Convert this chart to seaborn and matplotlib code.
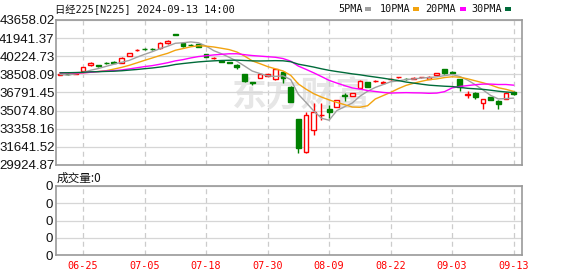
import numpy as np
import pandas as pd
import matplotlib
matplotlib.use("Agg")
import matplotlib.pyplot as plt
from matplotlib.patches import Rectangle
import seaborn as sns

# ---------------- data ----------------
dates = ["06-20", "06-21", "06-24", "06-25", "06-26", "06-27", "06-28", "07-01", "07-02", "07-03",
         "07-04", "07-05", "07-08", "07-09", "07-10", "07-11", "07-12", "07-16", "07-17", "07-18",
         "07-19", "07-22", "07-23", "07-24", "07-25", "07-26", "07-29", "07-30", "07-31", "08-01",
         "08-02", "08-05", "08-06", "08-07", "08-08", "08-09", "08-13", "08-14", "08-15", "08-16",
         "08-19", "08-20", "08-21", "08-22", "08-23", "08-26", "08-27", "08-28", "08-29", "08-30",
         "09-02", "09-03", "09-04", "09-05", "09-06", "09-09", "09-10", "09-11", "09-12", "09-13"]

opens = [38480, 38560, 38560, 38830, 39370, 39370, 39580, 39720, 39580, 40250,
         40800, 40940, 40930, 40980, 41450, 42300, 41510, 41330, 41360, 40400,
         40020, 39780, 39680, 39420, 38515, 37740, 38160, 38380, 38040, 38700,
         37340, 34250, 31130, 33240, 34620, 35200, 35450, 36520, 36460, 37246,
         37760, 37870, 37660, 38030, 38260, 38080, 38100, 38260, 38070, 38420,
         38990, 38700, 38040, 36580, 36770, 35825, 36340, 36015, 36170, 36840]

closes = [38530, 38520, 38640, 39200, 39620, 39340, 39550, 39630, 40100, 40530,
          40850, 40910, 40900, 41510, 41700, 42250, 41150, 41300, 41100, 40150,
          40060, 39700, 39620, 39250, 37850, 37700, 38500, 38520, 39000, 38140,
          35920, 31510, 34660, 34970, 34700, 34990, 36081, 36480, 36716, 37910,
          37340, 37910, 37810, 38070, 38290, 38040, 38136, 38290, 38290, 38610,
          38610, 38670, 37340, 36620, 36400, 36150, 36080, 35670, 36770, 36620]

highs = [38580, 38600, 38680, 39250, 39660, 39380, 39680, 39760, 40150, 40560,
         40900, 41030, 41000, 41560, 41760, 42360, 41560, 41340, 41380, 40450,
         40130, 39820, 39720, 39450, 38560, 37760, 38540, 38560, 39050, 38740,
         37400, 34300, 34917, 35826, 35770, 35608, 36120, 36720, 36750, 37950,
         37790, 38000, 37850, 38150, 38300, 38150, 38230, 38300, 38310, 38640,
         39030, 38800, 38080, 36960, 36800, 36180, 36400, 36040, 36800, 36900]

lows = [38440, 38480, 38520, 38800, 39340, 39200, 39450, 39600, 39550, 40230,
        40700, 40800, 40820, 40950, 41430, 42200, 41100, 41150, 41080, 40120,
        39960, 39680, 39580, 38990, 37800, 37520, 38130, 38360, 38000, 37720,
        35880, 31030, 31100, 32767, 34187, 34350, 35420, 36020, 36440, 37220,
        37310, 37780, 37640, 37980, 38150, 37950, 38030, 38150, 38050, 38400,
        38580, 38560, 36960, 36300, 36180, 35200, 36050, 35200, 36140, 36580]

ma5 = [38500, 38441, 38548, 38692, 38902, 39064, 39270, 39468, 39648, 39830,
       40132, 40404, 40658, 40940, 41174, 41454, 41502, 41582, 41500, 41190,
       40752, 40462, 40126, 39756, 39296, 38824, 38584, 38364, 38314, 38372,
       38016, 36618, 35846, 35040, 34352, 34166, 35080, 35444, 35793, 36435,
       36905, 37271, 37537, 37808, 37884, 38024, 38069, 38165, 38209, 38273,
       38387, 38494, 38304, 37970, 37528, 37036, 36518, 36184, 36214, 36258]

ma10 = [38669, 38653, 38613, 38646, 38720, 38782, 38855, 39008, 39170, 39366,
        39598, 39837, 40063, 40294, 40502, 40793, 40953, 41120, 41220, 41182,
        41103, 40982, 40854, 40628, 40243, 39788, 39523, 39245, 39035, 38834,
        38420, 37601, 37105, 36677, 36362, 36091, 35849, 35645, 35417, 35394,
        35536, 36176, 36491, 36801, 37160, 37465, 37670, 37851, 38009, 38079,
        38206, 38282, 38235, 38090, 37901, 37712, 37506, 37244, 37092, 36893]

ma20 = [38657, 38651, 38638, 38655, 38708, 38773, 38826, 38861, 38924, 39026,
        39134, 39245, 39338, 39470, 39611, 39787, 39904, 40064, 40195, 40274,
        40351, 40410, 40459, 40461, 40373, 40291, 40238, 40183, 40128, 40008,
        39762, 39292, 38980, 38653, 38303, 37940, 37686, 37445, 37226, 37114,
        36978, 36888, 36798, 36739, 36761, 36778, 36760, 36748, 36713, 36736,
        36871, 37229, 37363, 37445, 37530, 37588, 37588, 37548, 37550, 37486]

ma30 = [38654, 38664, 38679, 38707, 38748, 38762, 38788, 38810, 38849, 38913,
        38971, 39046, 39113, 39201, 39306, 39446, 39535, 39614, 39690, 39745,
        39790, 39824, 39843, 39856, 39822, 39788, 39777, 39791, 39808, 39794,
        39707, 39473, 39341, 39200, 39036, 38891, 38775, 38670, 38557, 38470,
        38353, 38253, 38150, 38035, 37922, 37781, 37681, 37580, 37487, 37435,
        37387, 37353, 37277, 37189, 37141, 37089, 37008, 36913, 36839, 36788]

price_ticks = [43658.02, 41941.37, 40224.73, 38508.09, 36791.45, 35074.80, 33358.16, 31641.52, 29924.87]
x_tick_labels = ["06-25", "07-05", "07-18", "07-30", "08-09", "08-22", "09-03", "09-13"]
legend_names = ["5PMA", "10PMA", "20PMA", "30PMA"]

# ---------------- style ----------------
RED = "#ff0000"
GREEN = "#008000"
MA_COLORS = ["#a0a0a0", "#f2a30f", "#ff00ff", "#006b3a"]
GRID_H = "#d6d6d6"
GRID_V = "#cccccc"
SPINE = "#999999"

sns.set_theme(style="white")
plt.rcParams['font.family'] = ['Liberation Sans', 'Noto Sans CJK SC', 'DejaVu Sans']
plt.rcParams['axes.unicode_minus'] = False
MONO = ['DejaVu Sans Mono', 'Noto Sans CJK SC']

W, H = 578, 276
fig = plt.figure(figsize=(W / 100, H / 100), dpi=100)
fig.patch.set_facecolor("white")
ax = fig.add_axes([56 / W, 1 - 165 / H, 466 / W, 145 / H])
axv = fig.add_axes([56 / W, 1 - 255 / H, 466 / W, 69 / H])

df = pd.DataFrame({"date": dates, "open": opens, "close": closes, "high": highs, "low": lows,
                   "ma5": ma5, "ma10": ma10, "ma20": ma20, "ma30": ma30})
df["x"] = np.arange(len(df))
up = df["close"] >= df["open"]
cols = np.where(up, RED, GREEN)
faces = np.where(up, "white", GREEN)

# watermark
ax.text(0.526, 0.48, "东方财富", transform=ax.transAxes, ha="center", va="center",
        fontsize=25, fontweight="bold", color="#e6e6e6", family=['Noto Sans CJK SC'], zorder=0)

# candles
ax.vlines(df["x"], df["low"], df["high"], colors=cols, lw=1.0, zorder=2)
body_bottom = np.minimum(df["open"], df["close"])
body_h = np.maximum(np.abs(df["close"] - df["open"]), 25)
ax.bar(df["x"], body_h, bottom=body_bottom, width=0.62, color=faces, edgecolor=cols,
       linewidth=1.0, zorder=3)

# moving averages
for key, c in zip(["ma5", "ma10", "ma20", "ma30"], MA_COLORS):
    sns.lineplot(data=df, x="x", y=key, ax=ax, color=c, lw=1.0, zorder=4, legend=False)

xlim = (-0.52, 60.08)
tick_idx = [dates.index(d) for d in x_tick_labels]

ax.set_xlim(*xlim)
ax.set_ylim(price_ticks[-1], price_ticks[0])
ax.set_yticks(price_ticks)
ax.set_yticklabels([f"{v:.2f}" for v in price_ticks], fontsize=9.5, color="#111111")
ax.set_xticks(tick_idx)
ax.set_xticklabels([])
ax.set_xlabel("")
ax.set_ylabel("")
ax.tick_params(axis="both", length=0, pad=1)
ax.yaxis.grid(True, color=GRID_H, lw=0.9, ls="-")
ax.xaxis.grid(True, color=GRID_V, lw=0.9, ls=(0, (4, 3)))
ax.set_axisbelow(True)
for s in ax.spines.values():
    s.set_color(SPINE)
    s.set_linewidth(1.2)

# volume panel (all zero)
vol_ticks = [0, 1, 2, 3, 4]
axv.set_xlim(*xlim)
axv.set_ylim(0, 4)
axv.set_yticks(vol_ticks)
axv.set_yticklabels(["0"] * len(vol_ticks), fontsize=9.5, color="#111111")
axv.set_xticks(tick_idx)
axv.set_xticklabels(x_tick_labels, color=RED, fontsize=7.3, family=MONO)
axv.tick_params(axis="both", length=0)
axv.tick_params(axis="y", pad=2)
axv.tick_params(axis="x", pad=4)
axv.yaxis.grid(True, color=GRID_H, lw=0.9, ls="-")
axv.xaxis.grid(True, color=GRID_V, lw=0.9, ls=(0, (4, 3)))
axv.set_axisbelow(True)
for s in axv.spines.values():
    s.set_color(SPINE)
    s.set_linewidth(1.2)

# texts
fig.text(55 / W, 1 - 10 / H, "日经225[N225] 2024-09-13 14:00", family=MONO, fontsize=7.4,
         va="center", ha="left", color="#111111")
fig.text(57 / W, 1 - 178 / H, "成交量:0", family=['Noto Sans CJK SC'], fontsize=8.4,
         va="center", ha="left", color="#111111")

leg_x = [338, 380, 425, 471]
leg_sq = [365, 413, 460, 505]
for name, lx, sx, c in zip(legend_names, leg_x, leg_sq, MA_COLORS):
    fig.text(lx / W, 1 - 9 / H, name, family=MONO, fontsize=7.3, va="center", ha="left",
             color="#111111")
    fig.patches.append(Rectangle((sx / W, 1 - 10.5 / H), 6 / W, 3 / H, transform=fig.transFigure,
                                 facecolor=c, edgecolor="none", figure=fig))

fig.savefig("out.png", dpi=100, facecolor="white")
